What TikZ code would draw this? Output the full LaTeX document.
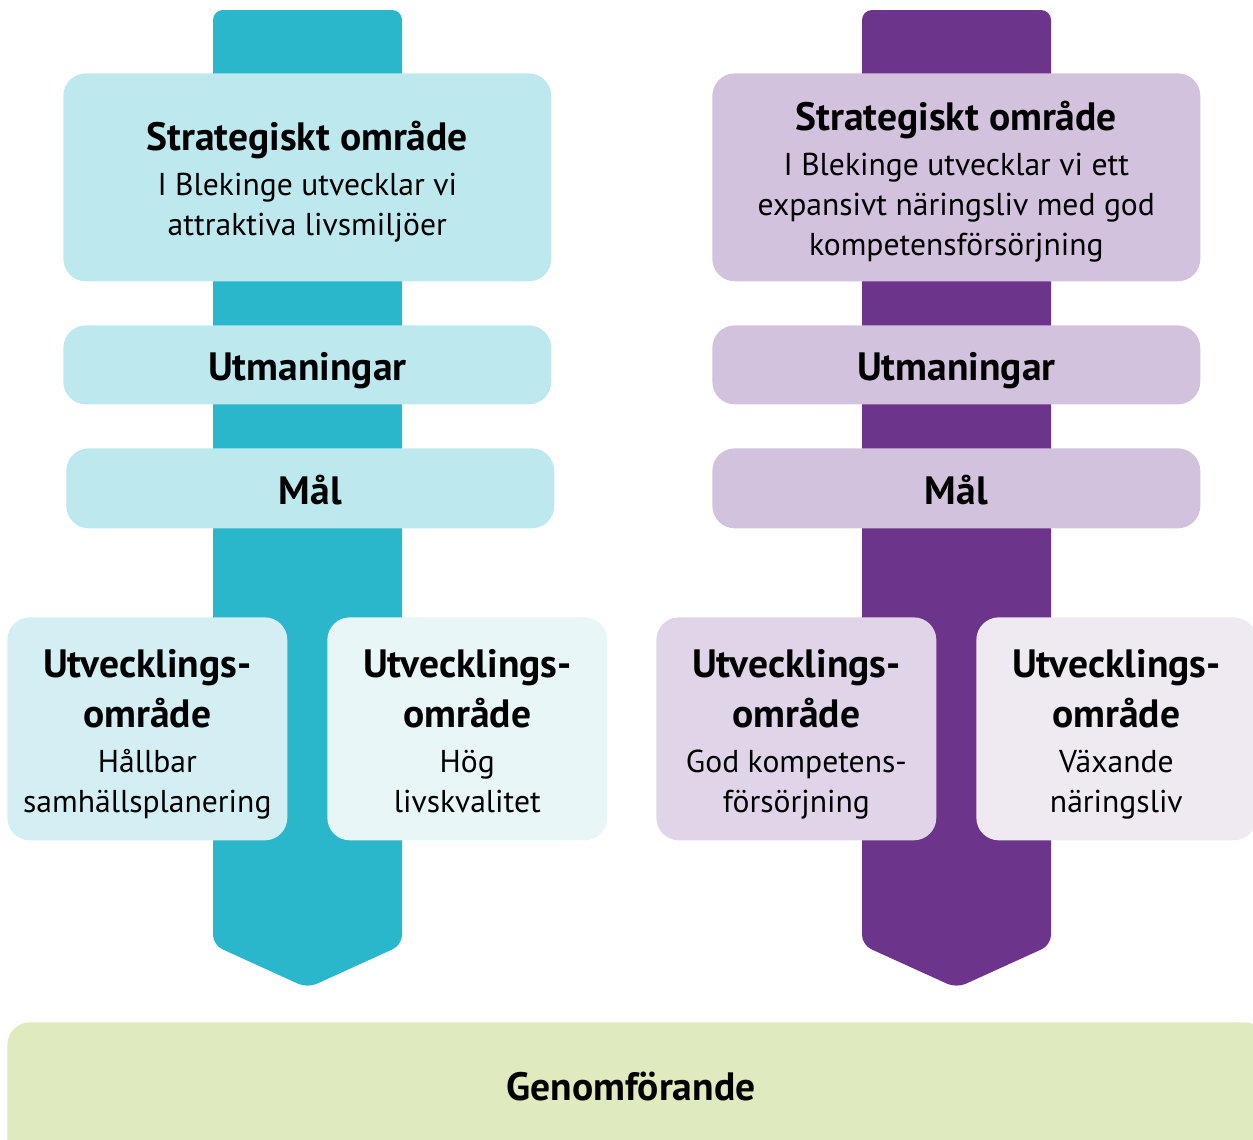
\documentclass[tikz,border=0pt]{standalone}
\usepackage{fontspec}
\setmainfont{PT Sans}
\newcommand{\ttlf}{\bfseries\fontsize{22.5}{28.4}\selectfont}
\newcommand{\bodyf}{\mdseries\fontsize{18}{22.7}\selectfont}
\newcommand{\blk}[3]{\parbox{#1}{\centering\ttlf #2\par\vspace{2.8pt}\bodyf #3\strut\par}}
\begin{document}
\begin{tikzpicture}[x=0.02cm,y=-0.02cm,
  box/.style={rounded corners=0.45cm,inner sep=0pt,anchor=north west},
  txt/.style={inner sep=0pt,align=center,text=black},
  big/.style={txt,font=\bfseries\fontsize{22.5}{28.4}\selectfont},
]
\definecolor{teal}{HTML}{2AB7CB}
\definecolor{tealA}{HTML}{BDE9EE}
\definecolor{tealB}{HTML}{D3EFF3}
\definecolor{tealC}{HTML}{E8F6F8}
\definecolor{purp}{HTML}{6C358B}
\definecolor{purpA}{HTML}{D3C2DD}
\definecolor{purpB}{HTML}{E0D5E8}
\definecolor{purpC}{HTML}{EFE9F2}
\definecolor{grn}{HTML}{DFEBBE}
\useasboundingbox (0,0) rectangle (1253,1139);
% arrows
\fill[teal,rounded corners=0.2cm] (213,10) -- (402,10) -- (402,945) -- (307.5,988) -- (213,945) -- cycle;
\fill[purp,rounded corners=0.2cm] (862,10) -- (1051,10) -- (1051,945) -- (956.5,988) -- (862,945) -- cycle;
% left column boxes
\node[box,fill=tealA,minimum width=9.76cm,minimum height=4.16cm] (ls) at (63,73) {};
\node[box,fill=tealA,minimum width=9.76cm,minimum height=1.58cm] (lu) at (63,325) {};
\node[box,fill=tealA,minimum width=9.76cm,minimum height=1.6cm] (lm) at (66,448) {};
\node[box,fill=tealB,minimum width=5.6cm,minimum height=4.46cm] (l1) at (7,617) {};
\node[box,fill=tealC,minimum width=5.6cm,minimum height=4.46cm] (l2) at (327,617) {};
% right column boxes
\node[box,fill=purpA,minimum width=9.76cm,minimum height=4.16cm] (rs) at (712,73) {};
\node[box,fill=purpA,minimum width=9.76cm,minimum height=1.58cm] (ru) at (712,325) {};
\node[box,fill=purpA,minimum width=9.76cm,minimum height=1.6cm] (rm) at (712,448) {};
\node[box,fill=purpB,minimum width=5.6cm,minimum height=4.46cm] (r1) at (656,617) {};
\node[box,fill=purpC,minimum width=5.6cm,minimum height=4.46cm] (r2) at (976,617) {};
% bottom
\node[box,fill=grn,minimum width=25.2cm,minimum height=2.8cm] (g) at (7,1022) {};
% texts
\node[txt,yshift=-0.14cm] (lst) at (ls.center) {\blk{9cm}{Strategiskt område}{I Blekinge utvecklar vi\\ attraktiva livsmiljöer}};
\node[big,yshift=-0.12cm] (lut) at (lu.center) {Utmaningar};
\node[big,yshift=-0.04cm] (lmt) at (lm.center) {Mål};
\node[txt,yshift=-0.16cm] (l1t) at (l1.center) {\blk{5.4cm}{Utvecklings-\\ område}{Hållbar\\ samhällsplanering}};
\node[txt,yshift=-0.16cm] (l2t) at (l2.center) {\blk{5.4cm}{Utvecklings-\\ område}{Hög\\ livskvalitet}};
\node[txt,yshift=-0.14cm] (rst) at (rs.center) {\blk{9cm}{Strategiskt område}{I Blekinge utvecklar vi ett\\ expansivt näringsliv med god\\ kompetensförsörjning}};
\node[big,yshift=-0.12cm] (rut) at (ru.center) {Utmaningar};
\node[big,yshift=-0.04cm] (rmt) at (rm.center) {Mål};
\node[txt,yshift=-0.16cm] (r1t) at (r1.center) {\blk{5.4cm}{Utvecklings-\\ område}{God kompetens-\\ försörjning}};
\node[txt,yshift=-0.16cm] (r2t) at (r2.center) {\blk{5.4cm}{Utvecklings-\\ område}{Växande\\ näringsliv}};
\node[big] (gt) at (631,1087) {Genomförande};
\end{tikzpicture}
\end{document}
